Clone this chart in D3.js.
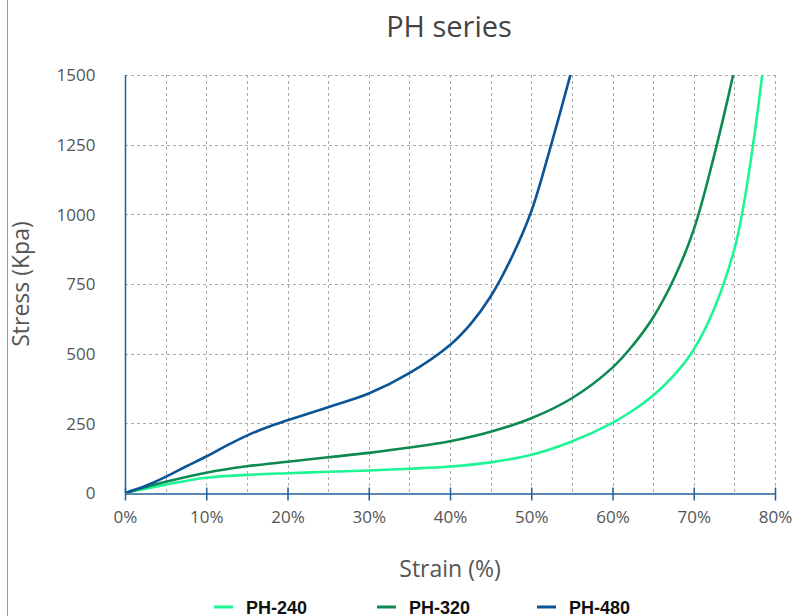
<!DOCTYPE html>
<html>
<head>
    <meta charset="UTF-8">
    <title>PH series</title>
    <script type="text/javascript" src="https://cdn.jsdelivr.net/npm/d3@7"></script>
    <style>
        body { margin: 0; background: #fff; }
        svg { display: block; }
    </style>
</head>
<body>
    <div id="chart"></div>
    <script>
        // strain (%) / stress (Kpa)
        var strain240 = [0, 5, 10, 15, 20, 25, 30, 35, 40, 45, 50, 55, 60, 62.5, 65, 67.5, 70, 72.5, 75, 76, 77, 78, 79];
        var stress240 = [0, 30, 55, 65, 71, 76, 81, 87, 95, 110, 137, 185, 252, 296, 350, 420, 515, 660, 875, 1010, 1190, 1400, 1640];

        var strain320 = [0, 5, 10, 15, 20, 25, 30, 35, 40, 45, 50, 55, 60, 62.5, 65, 67.5, 70, 72.5, 75, 76];
        var stress320 = [0, 40, 73, 96, 112, 128, 144, 163, 186, 220, 268, 340, 450, 530, 630, 765, 945, 1210, 1520, 1660];

        var strain480 = [0, 2.5, 5, 7.5, 10, 12.5, 15, 17.5, 20, 25, 30, 35, 40, 42.5, 45, 47.5, 50, 52.5, 55, 56];
        var stress480 = [0, 25, 58, 95, 131, 170, 206, 236, 261, 308, 357, 430, 531, 605, 705, 840, 1010, 1255, 1520, 1630];

        var seriesNames = ["PH-240", "PH-320", "PH-480"];
        var xTicks = [0, 10, 20, 30, 40, 50, 60, 70, 80];
        var xGrid = [5, 10, 15, 20, 25, 30, 35, 40, 45, 50, 55, 60, 65, 70, 75, 80];
        var yTicks = [0, 250, 500, 750, 1000, 1250, 1500];

        var colors = ["#1ef595", "#0c8a50", "#0b5495"];
        var axisColor = "#1f5f99";

        var width = 805, height = 616;
        var plot = {left: 125, right: 775, top: 75, bottom: 493};

        var svg = d3.select("#chart").append("svg")
            .attr("width", width).attr("height", height)
            .style("font-family", "'Open Sans', 'Noto Sans', sans-serif");

        // frame edge on the left
        svg.append("line")
            .attr("x1", 7.5).attr("x2", 7.5).attr("y1", 0).attr("y2", height)
            .attr("stroke", "#9a9a9a").attr("stroke-width", 1);

        var x = d3.scaleLinear().domain([0, 80]).range([plot.left, plot.right]);
        var y = d3.scaleLinear().domain([0, 1500]).range([plot.bottom, plot.top]);

        svg.append("defs").append("clipPath").attr("id", "clip")
            .append("rect")
            .attr("x", plot.left).attr("y", plot.top)
            .attr("width", plot.right - plot.left).attr("height", plot.bottom - plot.top);

        // grid
        var grid = svg.append("g").attr("stroke", "#aaa").attr("stroke-dasharray", "3,3").attr("stroke-width", 1);
        grid.selectAll(".vg").data(xGrid).enter().append("line")
            .attr("x1", function (d) { return Math.round(x(d)) + 0.5; })
            .attr("x2", function (d) { return Math.round(x(d)) + 0.5; })
            .attr("y1", plot.top).attr("y2", plot.bottom);
        grid.selectAll(".hg").data(yTicks.slice(1)).enter().append("line")
            .attr("x1", plot.left).attr("x2", plot.right)
            .attr("y1", function (d) { return Math.round(y(d)) + 0.5; })
            .attr("y2", function (d) { return Math.round(y(d)) + 0.5; });

        // y axis
        var yAxis = svg.append("g")
            .attr("transform", "translate(" + (plot.left + 0.5) + ",0)")
            .call(d3.axisLeft(y).tickValues(yTicks).tickSize(0).tickPadding(30).tickFormat(d3.format("d")));
        yAxis.select(".domain").attr("stroke", axisColor).attr("stroke-width", 1.5).attr("d", "M0," + plot.bottom + "V" + plot.top);
        yAxis.selectAll("text").attr("fill", "#555").style("font-size", "17px")
            .style("font-family", "'Open Sans', sans-serif").attr("dy", "0.35em");

        // x axis
        var xAxis = svg.append("g")
            .attr("transform", "translate(0," + (plot.bottom + 0.5) + ")")
            .call(d3.axisBottom(x).tickValues(xTicks).tickSize(0).tickFormat(function (d) { return d + "%"; }));
        xAxis.select(".domain").attr("stroke", axisColor).attr("stroke-width", 1.5);
        xAxis.selectAll(".tick line").attr("stroke", axisColor).attr("stroke-width", 1.5)
            .attr("y1", -6).attr("y2", 7);
        xAxis.selectAll("text").attr("fill", "#555").style("font-size", "17px")
            .style("font-family", "'Open Sans', sans-serif").attr("y", 24).attr("dy", "0.35em");

        // lines
        var series = [
            {name: seriesNames[0], xs: strain240, ys: stress240},
            {name: seriesNames[1], xs: strain320, ys: stress320},
            {name: seriesNames[2], xs: strain480, ys: stress480}
        ];
        var line = d3.line()
            .x(function (d) { return x(d[0]); })
            .y(function (d) { return y(d[1]); })
            .curve(d3.curveCatmullRom.alpha(0.5));

        svg.append("g").attr("clip-path", "url(#clip)")
            .selectAll("path").data(series).enter().append("path")
            .attr("fill", "none")
            .attr("stroke", function (d, i) { return colors[i]; })
            .attr("stroke-width", 2.6)
            .attr("d", function (d) { return line(d3.zip(d.xs, d.ys)); });

        // titles
        svg.append("text").attr("x", 449).attr("y", 37)
            .attr("text-anchor", "middle").attr("fill", "#444")
            .style("font-size", "29px").text("PH series");
        svg.append("text").attr("x", 450).attr("y", 577)
            .attr("text-anchor", "middle").attr("fill", "#555")
            .style("font-size", "23px").text("Strain (%)");
        svg.append("text")
            .attr("transform", "translate(29,284) rotate(-90)")
            .attr("text-anchor", "middle").attr("fill", "#555")
            .style("font-size", "23px").text("Stress (Kpa)");

        // legend
        var legendX = [214, 377, 537];
        var legend = svg.selectAll(".legend").data(series).enter().append("g")
            .attr("transform", function (d, i) { return "translate(" + legendX[i] + ",607)"; });
        legend.append("line")
            .attr("x1", 0).attr("x2", 19).attr("y1", 0).attr("y2", 0)
            .attr("stroke", function (d, i) { return colors[i]; }).attr("stroke-width", 3);
        legend.append("text")
            .attr("x", 32).attr("y", 6.5)
            .attr("fill", "#111")
            .style("font-family", "'Liberation Sans', Arial, sans-serif")
            .style("font-weight", "bold").style("font-size", "18px")
            .text(function (d) { return d.name; });
    </script>
</body>
</html>
